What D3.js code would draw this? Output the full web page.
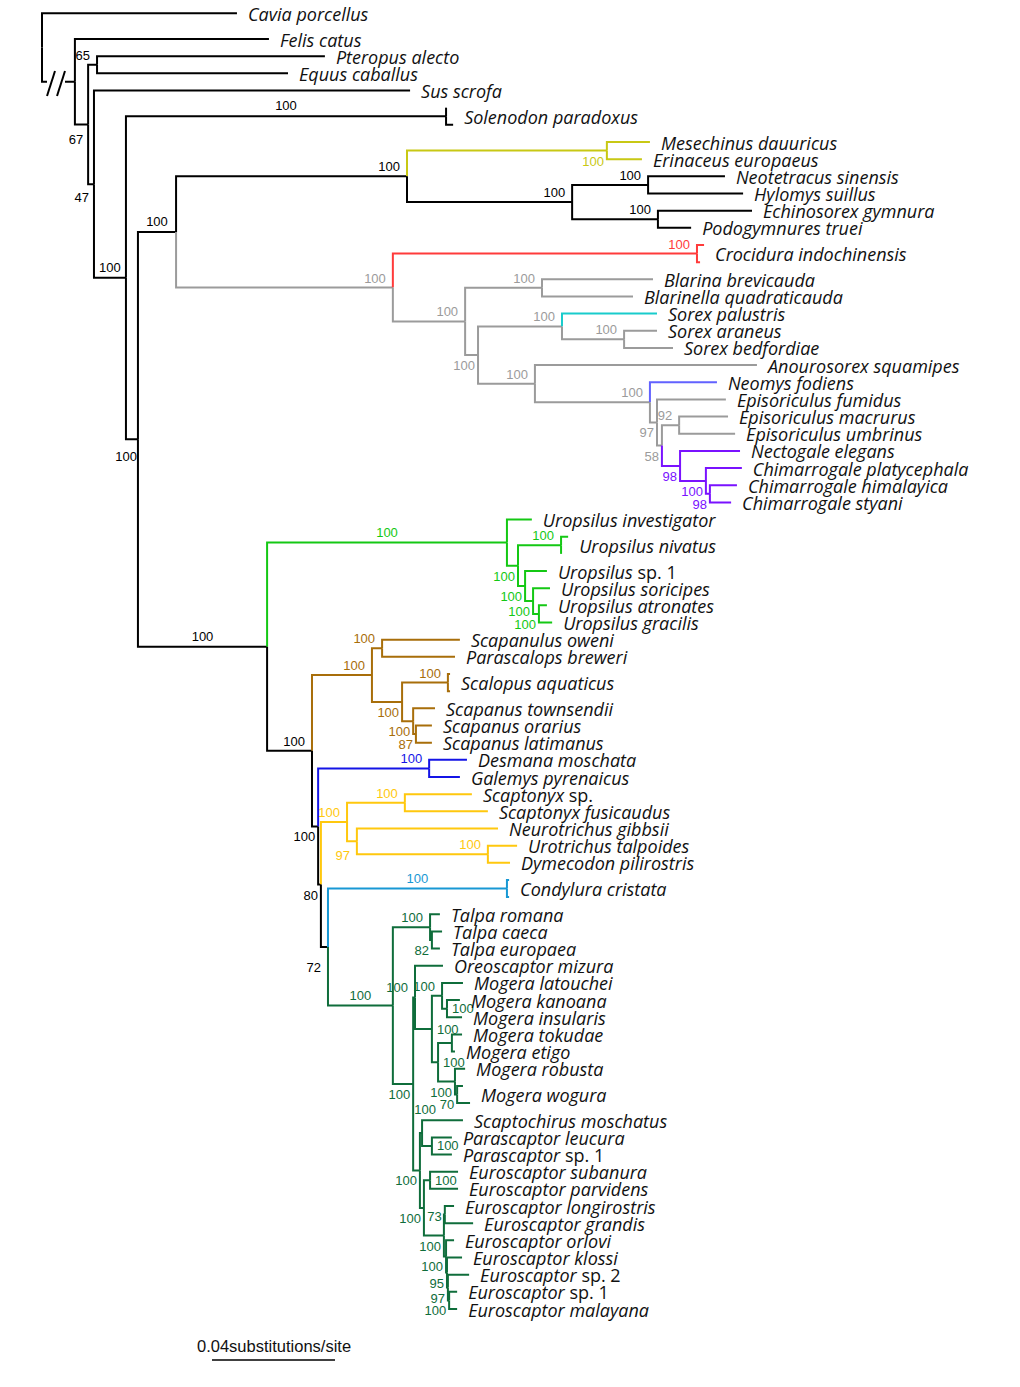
<!DOCTYPE html>
<html>
<head>
<meta charset="utf-8">
<script src="https://cdn.jsdelivr.net/npm/d3@7"></script>
<style>
    body{margin:0;background:#fff;}
    .tip{font-family:"Open Sans",sans-serif;font-style:italic;font-size:18px;fill:#111;white-space:pre;}
    .sup{font-family:"Liberation Sans",Arial,sans-serif;font-size:13px;}
    .scale{font-family:"Liberation Sans",Arial,sans-serif;font-size:16.5px;fill:#111;}
</style>
</head>
<body>
<script>
// tree rows: [id, parent, depth from root (subst./site), support]
// capitalised ids are taxon names, lower-case ids are unnamed nodes / collapsed sequences
var outgroups = [
    ["root", "", 0],
    ["Cavia porcellus", "root", 0.0634],
    ["n1", "root", 0.0107],
    ["Felis catus", "n1", 0.0738],
    ["n2", "n1", 0.0150, 67],
    ["n3", "n2", 0.0179, 65],
    ["Pteropus alecto", "n3", 0.0920],
    ["Equus caballus", "n3", 0.0800],
    ["n4", "n2", 0.0169, 47],
    ["Sus scrofa", "n4", 0.1197],
    ["n5", "n4", 0.0273, 100],
    ["Solenodon paradoxus", "n5", 0.1314, 100],
    ["sol.a", "Solenodon paradoxus", 0.1314],
    ["sol.b", "Solenodon paradoxus", 0.1337],
    ["n6", "n5", 0.0312, 100]
];

var erinaceids = [
    ["n7", "n6", 0.0436, 100],
    ["d1", "n7", 0.1187, 100],
    ["e1", "d1", 0.1837, 100],
    ["Mesechinus dauuricus", "e1", 0.1977],
    ["Erinaceus europaeus", "e1", 0.1951],
    ["e2", "d1", 0.1724, 100],
    ["e3", "e2", 0.1971, 100],
    ["Neotetracus sinensis", "e3", 0.2221],
    ["Hylomys suillus", "e3", 0.2280],
    ["e4", "e2", 0.2003, 100],
    ["Echinosorex gymnura", "e4", 0.2309],
    ["Podogymnures truei", "e4", 0.2111]
];

var soricids = [
    ["g1", "n7", 0.1141, 100],
    ["Crocidura indochinensis", "g1", 0.2130, 100],
    ["cro.a", "Crocidura indochinensis", 0.2153],
    ["cro.b", "Crocidura indochinensis", 0.2140],
    ["g2", "g1", 0.1376, 100],
    ["b1", "g2", 0.1626, 100],
    ["Blarina brevicauda", "b1", 0.1987],
    ["Blarinella quadraticauda", "b1", 0.1922],
    ["g3", "g2", 0.1418, 100],
    ["s1", "g3", 0.1691, 100],
    ["Sorex palustris", "s1", 0.2000],
    ["s2", "s1", 0.1893, 100],
    ["Sorex araneus", "s2", 0.2000],
    ["Sorex bedfordiae", "s2", 0.2052],
    ["g4", "g3", 0.1603, 100],
    ["Anourosorex squamipes", "g4", 0.2325],
    ["g5", "g4", 0.1977, 100],
    ["Neomys fodiens", "g5", 0.2195],
    ["g6", "g5", 0.2000, 97],
    ["Episoriculus fumidus", "g6", 0.2224],
    ["g7", "g6", 0.2016, 58],
    ["g8", "g7", 0.2072, 92],
    ["Episoriculus macrurus", "g8", 0.2231],
    ["Episoriculus umbrinus", "g8", 0.2254],
    ["g9", "g7", 0.2075, 98],
    ["Nectogale elegans", "g9", 0.2270],
    ["g10", "g9", 0.2159, 100],
    ["Chimarrogale platycephala", "g10", 0.2276],
    ["g11", "g10", 0.2172, 98],
    ["Chimarrogale himalayica", "g11", 0.2260],
    ["Chimarrogale styani", "g11", 0.2241]
];

var uropsilines = [
    ["t0", "n6", 0.0732, 100],
    ["u0", "t0", 0.1512, 100],
    ["Uropsilus investigator", "u0", 0.1593],
    ["u1", "u0", 0.1548, 100],
    ["Uropsilus nivatus", "u1", 0.1688, 100],
    ["niv.a", "Uropsilus nivatus", 0.1711],
    ["niv.b", "Uropsilus nivatus", 0.1688],
    ["u2", "u1", 0.1571, 100],
    ["Uropsilus sp. 1", "u2", 0.1642],
    ["u3", "u2", 0.1597, 100],
    ["Uropsilus soricipes", "u3", 0.1652],
    ["u4", "u3", 0.1616, 100],
    ["Uropsilus atronates", "u4", 0.1642],
    ["Uropsilus gracilis", "u4", 0.1659]
];

var scalopines = [
    ["t1", "t0", 0.0878, 100],
    ["sc0", "t1", 0.1073, 100],
    ["sc1", "sc0", 0.1106, 100],
    ["Scapanulus oweni", "sc1", 0.1359],
    ["Parascalops breweri", "sc1", 0.1343],
    ["sc2", "sc0", 0.1171, 100],
    ["Scalopus aquaticus", "sc2", 0.1320, 100],
    ["sca.a", "Scalopus aquaticus", 0.1327],
    ["sca.b", "Scalopus aquaticus", 0.1327],
    ["sc3", "sc2", 0.1207, 100],
    ["Scapanus townsendii", "sc3", 0.1278],
    ["sc4", "sc3", 0.1216, 87],
    ["Scapanus orarius", "sc4", 0.1268],
    ["Scapanus latimanus", "sc4", 0.1268]
];

var desmanines = [
    ["t2", "t1", 0.0898, 100],
    ["de0", "t2", 0.1259, 100],
    ["Desmana moschata", "de0", 0.1382],
    ["Galemys pyrenaicus", "de0", 0.1359],
    ["t3", "t2", 0.0907, 80],
    ["y0", "t3", 0.0992, 100],
    ["y1", "y0", 0.1180, 100],
    ["Scaptonyx sp.", "y1", 0.1398],
    ["Scaptonyx fusicaudus", "y1", 0.1450],
    ["y2", "y0", 0.1024, 97],
    ["Neurotrichus gibbsii", "y2", 0.1483],
    ["y3", "y2", 0.1450, 100],
    ["Urotrichus talpoides", "y3", 0.1545],
    ["Dymecodon pilirostris", "y3", 0.1522],
    ["t4", "t3", 0.0930, 72],
    ["Condylura cristata", "t4", 0.1512, 100],
    ["con.a", "Condylura cristata", 0.1519],
    ["con.b", "Condylura cristata", 0.1519]
];

var talpines = [
    ["k0", "t4", 0.1141, 100],
    ["ta", "k0", 0.1262, 100],
    ["Talpa romana", "ta", 0.1294],
    ["tb", "ta", 0.1268, 82],
    ["Talpa caeca", "tb", 0.1301],
    ["Talpa europaea", "tb", 0.1294],
    ["k1", "k0", 0.1207, 100],
    ["mo", "k1", 0.1213, 100],
    ["Oreoscaptor mizura", "mo", 0.1304],
    ["m0", "mo", 0.1268, 100],
    ["m1", "m0", 0.1301, 100],
    ["Mogera latouchei", "m1", 0.1369],
    ["mk", "m1", 0.1317, 100],
    ["Mogera kanoana", "mk", 0.1359],
    ["Mogera insularis", "mk", 0.1366],
    ["m2", "m0", 0.1288, 100],
    ["mt", "m2", 0.1333],
    ["Mogera tokudae", "mt", 0.1366],
    ["Mogera etigo", "mt", 0.1343],
    ["mr", "m2", 0.1343, 100],
    ["Mogera robusta", "mr", 0.1376],
    ["Mogera wogura", "mr", 0.1350, 70],
    ["wog.a", "Mogera wogura", 0.1369],
    ["wog.b", "Mogera wogura", 0.1392],
    ["se", "k1", 0.1229, 100],
    ["sp", "se", 0.1236, 100],
    ["Scaptochirus moschatus", "sp", 0.1369],
    ["pa", "sp", 0.1268, 100],
    ["Parascaptor leucura", "pa", 0.1333],
    ["Parascaptor sp. 1", "pa", 0.1333],
    ["eu", "se", 0.1242, 100],
    ["es", "eu", 0.1262, 100],
    ["Euroscaptor subanura", "es", 0.1353],
    ["Euroscaptor parvidens", "es", 0.1353],
    ["l0", "eu", 0.1307, 100],
    ["lg", "l0", 0.1310, 73],
    ["Euroscaptor longirostris", "lg", 0.1340],
    ["Euroscaptor grandis", "lg", 0.1402],
    ["l1", "l0", 0.1314, 100],
    ["Euroscaptor orlovi", "l1", 0.1340],
    ["l2", "l1", 0.1317, 95],
    ["Euroscaptor klossi", "l2", 0.1366],
    ["l3", "l2", 0.1320, 97],
    ["Euroscaptor sp. 2", "l3", 0.1389],
    ["l4", "l3", 0.1324, 100],
    ["Euroscaptor sp. 1", "l4", 0.1350],
    ["Euroscaptor malayana", "l4", 0.1350]
];

var tipRows = {"Cavia porcellus": 2};          // rows taken by a tip (default 1)

var cladeColors = {                             // colour of a clade, inherited downwards
    "e1": "#c8c814",
    "g1": "#9b9b9b",
    "Crocidura indochinensis": "#ff3b3b",
    "Sorex palustris": "#19cccc",
    "Neomys fodiens": "#6262ff",
    "g9": "#7a12ff",
    "u0": "#14c814",
    "sc0": "#a86e0a",
    "de0": "#1414e6",
    "y0": "#ffc80e",
    "Condylura cristata": "#1898d4",
    "k0": "#0f6d3b"
};

// where the support value sits relative to its node
var labelMode = {
    mid: ["n5", "Solenodon paradoxus", "n7", "t0", "u0", "Condylura cristata", "k0"],
    below: ["n2", "n4", "n6", "e1", "g3", "g6", "g7", "g9", "g10", "g11", "u1", "u2", "u3", "u4",
            "sc2", "sc3", "sc4", "t2", "t3", "t4", "y2", "tb", "k1", "mr", "Mogera wogura",
            "se", "eu", "l0", "l1", "l2", "l3", "l4"],
    right: ["mk", "m0", "m2", "pa", "es"],
    left: ["lg"]
};
var labelNudge = {"n2": [-2, 5], "n4": [-2, 3], "n6": [2, 7], "t4": [-4, 10], "y2": [-4, 4], "sp": [21, -14]};

window.onload = function(){

    var w = 1020, h = 1387;

    var svg = d3.select("body")
        .append("svg")
        .attr("width", w)
        .attr("height", h)
        .attr("class", "svg");

    var table = [].concat(outgroups, erinaceids, soricids, uropsilines, scalopines, desmanines, talpines);

    var root = d3.stratify()
        .id(function(d){ return d[0]; })
        .parentId(function(d){ return d[1]; })(table);

    // one row per sequence, top to bottom
    var slot = 0;
    root.leaves().forEach(function(leaf){
        var n = tipRows[leaf.id] || 1;
        leaf.slot = slot + (n - 1) / 2;
        slot += n;
    });

    var x = d3.scaleLinear()                    // substitutions/site -> px
        .domain([0, 0.04])
        .range([42, 165]);

    var y = d3.scaleLinear()                    // row -> px
        .domain([0, slot - 1])
        .range([4.7, 1309]);

    root.eachAfter(function(node){
        node.px = x(node.data[2]);
        if (node.children){
            node.py = (node.children[0].py + node.children[node.children.length - 1].py) / 2;
        } else {
            node.py = y(node.slot);
        }
    });

    root.eachBefore(function(node){
        node.color = cladeColors[node.id] || (node.parent ? node.parent.color : "#000");
    });

    var breakGap = {"n1": [47, 65]};            // the shortened root branch

    var branches = svg.append("g")
        .attr("class", "branches")
        .selectAll(".branch")
        .data(root.descendants().slice(1))
        .enter()
        .append("path")
        .attr("class", "branch")
        .attr("d", function(d){
            var p = d.parent;
            var s = "M" + p.px + "," + p.py + "V" + d.py;
            if (breakGap[d.id]){
                s += "H" + breakGap[d.id][0] + "M" + breakGap[d.id][1] + "," + d.py;
            }
            return s + "H" + d.px;
        })
        .attr("fill", "none")
        .attr("stroke", function(d){ return d.color; })
        .attr("stroke-width", 2);

    // the "//" marks on the root branch
    var slashes = svg.append("g")
        .attr("class", "slashes")
        .selectAll("line")
        .data([47, 57])
        .enter()
        .append("line")
        .attr("x1", function(d){ return d; })
        .attr("y1", 96)
        .attr("x2", function(d){ return d + 8; })
        .attr("y2", 71)
        .attr("stroke", "#000")
        .attr("stroke-width", 2);

    function modeOf(id){
        for (var m in labelMode){
            if (labelMode[m].indexOf(id) >= 0) return m;
        }
        return "above";
    }

    var supports = svg.append("g")
        .attr("class", "supports")
        .selectAll(".sup")
        .data(root.descendants().filter(function(d){ return d.data[3] != null; }))
        .enter()
        .append("text")
        .attr("class", "sup")
        .each(function(d){
            var m = modeOf(d.id), lx, ly, anchor = "end";
            if (m == "mid"){ lx = (d.parent.px + d.px) / 2; ly = d.py - 6; anchor = "middle"; }
            else if (m == "below"){ lx = d.px - 3; ly = d.py + 15; }
            else if (m == "right"){ lx = d.px + 5; ly = d.py + 4.5; anchor = "start"; }
            else if (m == "left"){ lx = d.px - 3; ly = d.py + 6.5; }
            else { lx = d.px - 7; ly = d.py - 5; }
            var nudge = labelNudge[d.id] || [0, 0];
            d3.select(this)
                .attr("x", lx + nudge[0])
                .attr("y", ly + nudge[1])
                .attr("text-anchor", anchor);
        })
        .attr("fill", function(d){ return d.color; })
        .text(function(d){ return d.data[3]; });

    var tips = svg.append("g")
        .attr("class", "tips")
        .selectAll(".tip")
        .data(root.descendants().filter(function(d){ return /^[A-Z]/.test(d.id); }))
        .enter()
        .append("text")
        .attr("class", "tip")
        .attr("x", function(d){
            var end = d.children ? d3.max(d.children, function(c){ return c.px; }) : d.px;
            return end + 11;
        })
        .attr("y", function(d){ return d.py; })
        .attr("dy", "0.42em")
        .each(function(d){
            var t = d3.select(this), i = d.id.indexOf(" sp.");
            if (i < 0){
                t.text(d.id);
            } else {
                t.append("tspan").text(d.id.slice(0, i));
                t.append("tspan").attr("font-style", "normal").text(d.id.slice(i));
            }
        });

    // scale bar
    var barX = 212, barY = 1360;
    var scaleBar = svg.append("g").attr("class", "scalebar");
    scaleBar.append("line")
        .attr("x1", barX)
        .attr("x2", barX + x(0.04) - x(0))
        .attr("y1", barY)
        .attr("y2", barY)
        .attr("stroke", "#000")
        .attr("stroke-width", 1.3);
    scaleBar.append("text")
        .attr("class", "scale")
        .attr("x", 197)
        .attr("y", 1352)
        .text("0.04substitutions/site");
};
</script>
</body>
</html>
